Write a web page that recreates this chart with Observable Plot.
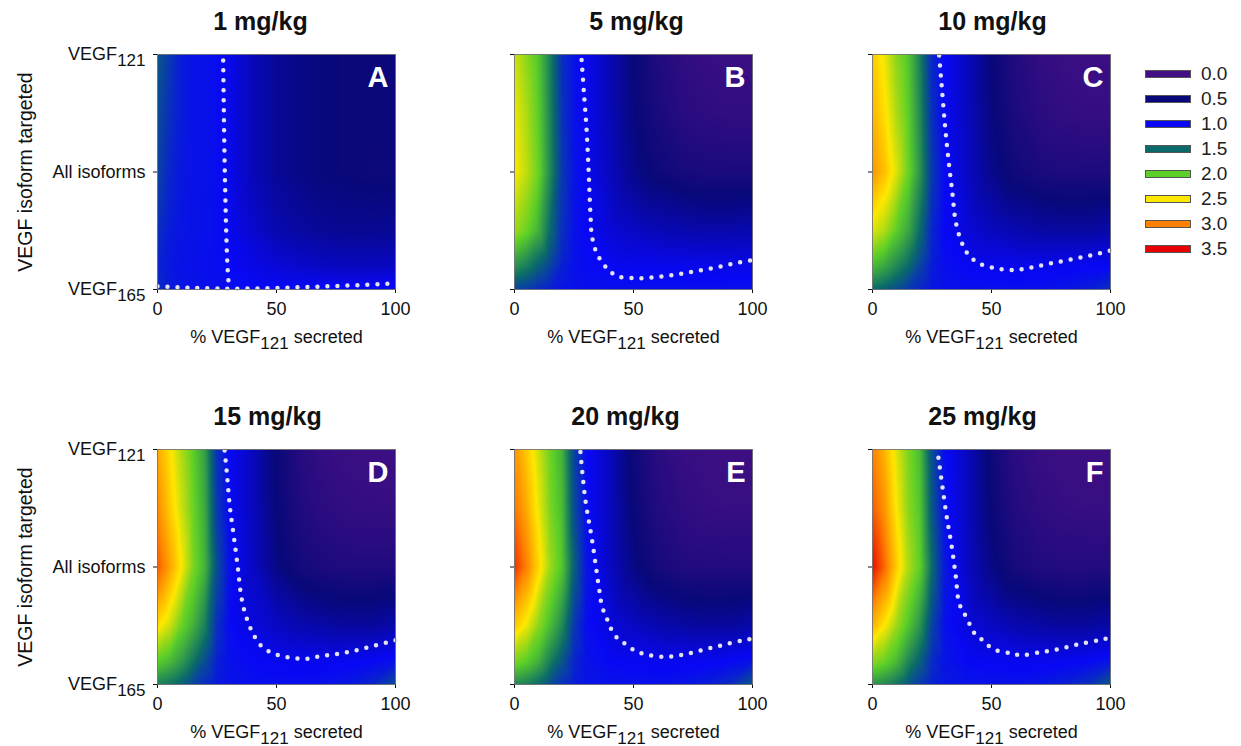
<!DOCTYPE html>
<html><head><meta charset="utf-8">
<script src="https://cdn.jsdelivr.net/npm/d3@7"></script>
<script src="https://cdn.jsdelivr.net/npm/@observablehq/plot@0.6"></script>
<style>
html,body{margin:0;padding:0;background:#fff;}
body{width:1241px;height:746px;overflow:hidden;position:relative;font-family:"Liberation Sans",Arial,sans-serif;}
.panel{position:absolute;}
.sw{position:absolute;left:1145px;width:44px;height:6px;border:1px solid #555;}
.lab{position:absolute;left:1201px;font-size:19px;line-height:19px;color:#222;}
</style></head><body>
<div id="root"></div>
<script>
// ---------- data ----------
const doses = ["1 mg/kg", "5 mg/kg", "10 mg/kg", "15 mg/kg", "20 mg/kg", "25 mg/kg"];
const letters = ["A", "B", "C", "D", "E", "F"];
const pctSecreted = [0, 5, 10, 15, 20, 25, 30, 40, 50, 60, 70, 80, 90, 100];
// 0 = VEGF165 targeted, 0.5 = all isoforms, 1 = VEGF121 targeted
const isoformPos = [0, 0.1, 0.25, 0.5, 0.75, 1];
const yTicks = [0, 0.5, 1];
const yTickLabels = ["VEGF165", "All isoforms", "VEGF121"];
const xTicks = [0, 50, 100];
const xLabel = "% VEGF121 secreted";
const yLabel = "VEGF isoform targeted";
const legendLevels = [0, 0.5, 1.0, 1.5, 2.0, 2.5, 3.0, 3.5];
const legendColors = ["#430f85", "#08087a", "#0808f5", "#0a6a6a", "#5ccf28", "#ffe800", "#ff8000", "#e80000"];

// rows follow isoformPos (bottom -> top), columns follow pctSecreted
const valuesA = [
  [1.20, 1.10, 1.06, 1.05, 1.04, 1.03, 1.02, 1.02, 1.02, 1.02, 1.02, 1.02, 1.03, 1.05],
  [1.15, 1.08, 1.05, 1.04, 1.03, 1.02, 1.00, 0.94, 0.88, 0.84, 0.80, 0.78, 0.78, 0.80],
  [1.20, 1.10, 1.06, 1.05, 1.04, 1.02, 0.98, 0.84, 0.72, 0.66, 0.62, 0.60, 0.60, 0.62],
  [1.30, 1.15, 1.08, 1.05, 1.05, 1.02, 0.96, 0.76, 0.62, 0.55, 0.50, 0.48, 0.46, 0.46],
  [1.35, 1.20, 1.10, 1.05, 1.05, 1.02, 0.96, 0.76, 0.62, 0.55, 0.50, 0.48, 0.48, 0.48],
  [1.40, 1.25, 1.10, 1.05, 1.05, 1.02, 0.96, 0.76, 0.62, 0.55, 0.50, 0.48, 0.48, 0.48]
];
const valuesB = [
  [1.30, 1.25, 1.18, 1.12, 1.06, 1.04, 1.03, 1.03, 1.03, 1.03, 1.03, 1.03, 1.04, 1.05],
  [1.70, 1.60, 1.45, 1.30, 1.12, 1.04, 1.01, 0.99, 0.97, 0.97, 0.97, 0.96, 0.95, 0.95],
  [2.20, 2.05, 1.85, 1.50, 1.20, 1.05, 0.99, 0.88, 0.80, 0.75, 0.72, 0.70, 0.70, 0.72],
  [2.50, 2.30, 2.05, 1.65, 1.25, 1.06, 0.98, 0.78, 0.58, 0.45, 0.38, 0.35, 0.35, 0.35],
  [2.45, 2.25, 2.00, 1.62, 1.22, 1.05, 0.98, 0.75, 0.52, 0.35, 0.24, 0.18, 0.15, 0.15],
  [2.35, 2.15, 1.95, 1.60, 1.20, 1.05, 0.98, 0.75, 0.50, 0.30, 0.17, 0.10, 0.08, 0.08]
];
const valuesC = [
  [1.50, 1.45, 1.35, 1.25, 1.15, 1.07, 1.04, 1.03, 1.03, 1.03, 1.04, 1.06, 1.10, 1.20],
  [1.90, 1.80, 1.65, 1.50, 1.30, 1.10, 1.03, 0.99, 0.97, 0.96, 0.97, 0.98, 0.99, 1.00],
  [2.40, 2.25, 2.00, 1.80, 1.50, 1.15, 1.00, 0.88, 0.78, 0.72, 0.68, 0.66, 0.66, 0.70],
  [2.90, 2.70, 2.40, 2.05, 1.70, 1.25, 1.02, 0.80, 0.58, 0.42, 0.35, 0.32, 0.32, 0.32],
  [2.75, 2.55, 2.25, 2.00, 1.65, 1.20, 1.00, 0.78, 0.52, 0.33, 0.22, 0.15, 0.12, 0.12],
  [2.65, 2.45, 2.15, 1.95, 1.60, 1.15, 1.00, 0.78, 0.50, 0.28, 0.14, 0.08, 0.06, 0.06]
];
const valuesD = [
  [1.60, 1.55, 1.45, 1.30, 1.18, 1.08, 1.05, 1.03, 1.03, 1.03, 1.05, 1.08, 1.15, 1.35],
  [2.00, 1.90, 1.75, 1.55, 1.35, 1.12, 1.04, 1.00, 0.98, 0.97, 0.97, 0.98, 1.00, 1.05],
  [2.55, 2.35, 2.05, 1.85, 1.60, 1.20, 1.02, 0.90, 0.80, 0.72, 0.68, 0.65, 0.65, 0.70],
  [3.15, 2.85, 2.50, 2.10, 1.85, 1.35, 1.05, 0.80, 0.55, 0.40, 0.33, 0.30, 0.30, 0.30],
  [2.95, 2.65, 2.35, 2.05, 1.80, 1.25, 1.00, 0.78, 0.50, 0.30, 0.20, 0.14, 0.12, 0.12],
  [2.80, 2.55, 2.25, 2.00, 1.75, 1.20, 1.00, 0.78, 0.48, 0.25, 0.12, 0.07, 0.06, 0.06]
];
const valuesE = [
  [1.65, 1.60, 1.50, 1.35, 1.20, 1.10, 1.06, 1.04, 1.04, 1.04, 1.06, 1.10, 1.18, 1.40],
  [2.10, 2.00, 1.85, 1.60, 1.40, 1.15, 1.05, 1.00, 0.98, 0.97, 0.97, 0.98, 1.00, 1.05],
  [2.65, 2.45, 2.15, 1.90, 1.65, 1.25, 1.03, 0.90, 0.80, 0.72, 0.68, 0.65, 0.65, 0.70],
  [3.30, 3.00, 2.60, 2.20, 1.95, 1.45, 1.08, 0.80, 0.55, 0.38, 0.30, 0.28, 0.28, 0.28],
  [3.05, 2.80, 2.45, 2.10, 1.90, 1.35, 1.03, 0.78, 0.48, 0.28, 0.18, 0.12, 0.10, 0.10],
  [2.90, 2.65, 2.35, 2.05, 1.85, 1.30, 1.02, 0.78, 0.45, 0.22, 0.10, 0.06, 0.05, 0.05]
];
const valuesF = [
  [1.70, 1.65, 1.55, 1.40, 1.25, 1.12, 1.07, 1.05, 1.05, 1.05, 1.07, 1.12, 1.20, 1.40],
  [2.15, 2.05, 1.90, 1.65, 1.45, 1.18, 1.06, 1.00, 0.98, 0.97, 0.97, 0.98, 1.00, 1.06],
  [2.75, 2.50, 2.20, 1.95, 1.70, 1.30, 1.05, 0.90, 0.80, 0.72, 0.68, 0.65, 0.65, 0.70],
  [3.45, 3.10, 2.65, 2.25, 2.00, 1.50, 1.10, 0.80, 0.55, 0.37, 0.30, 0.27, 0.27, 0.27],
  [3.15, 2.90, 2.50, 2.15, 1.95, 1.40, 1.05, 0.78, 0.48, 0.27, 0.17, 0.12, 0.10, 0.10],
  [3.00, 2.75, 2.40, 2.10, 1.90, 1.35, 1.03, 0.78, 0.45, 0.20, 0.09, 0.05, 0.05, 0.05]
];

// dotted contour lines (x = % secreted, y = isoform position, seg = piece)
const contourA = [
  {x: 27.6, y: 0.975, seg: 1}, {x: 28.3, y: 0.49, seg: 1}, {x: 29.3, y: 0.12, seg: 1}, {x: 30.0, y: 0.01, seg: 1},
  {x: 0, y: 0.014, seg: 2}, {x: 12, y: 0.008, seg: 2}, {x: 25, y: 0.004, seg: 2}, {x: 40, y: 0.004, seg: 2},
  {x: 55, y: 0.008, seg: 2}, {x: 70, y: 0.013, seg: 2}, {x: 85, y: 0.019, seg: 2}, {x: 100, y: 0.026, seg: 2}
];
const contourB = [
  {x: 28.2, y: 0.977}, {x: 29.1, y: 0.847}, {x: 30.3, y: 0.677}, {x: 31.2, y: 0.492}, {x: 31.9, y: 0.322},
  {x: 32.6, y: 0.223}, {x: 34.7, y: 0.152}, {x: 39.0, y: 0.088}, {x: 43.0, y: 0.058}, {x: 50.1, y: 0.048},
  {x: 58.5, y: 0.052}, {x: 66.9, y: 0.062}, {x: 75.3, y: 0.077}, {x: 83.7, y: 0.092}, {x: 92.1, y: 0.11}, {x: 100, y: 0.126}
];
const contourC = [
  {x: 28.0, y: 0.996}, {x: 29.0, y: 0.875}, {x: 30.4, y: 0.705}, {x: 31.8, y: 0.563}, {x: 33.6, y: 0.407},
  {x: 35.0, y: 0.286}, {x: 37.5, y: 0.2}, {x: 40.5, y: 0.145}, {x: 45.0, y: 0.11}, {x: 52.0, y: 0.09},
  {x: 60.0, y: 0.083}, {x: 67.4, y: 0.095}, {x: 75.1, y: 0.112}, {x: 83.5, y: 0.128}, {x: 92.0, y: 0.146}, {x: 100, y: 0.166}
];
const contourD = [
  {x: 28.2, y: 0.996}, {x: 29.3, y: 0.883}, {x: 30.4, y: 0.756}, {x: 32.1, y: 0.628}, {x: 33.7, y: 0.501},
  {x: 35.2, y: 0.374}, {x: 37.0, y: 0.297}, {x: 40.0, y: 0.219}, {x: 43.5, y: 0.165}, {x: 48.0, y: 0.135},
  {x: 54.5, y: 0.116}, {x: 62.9, y: 0.109}, {x: 67.1, y: 0.118}, {x: 75.5, y: 0.13}, {x: 83.2, y: 0.145},
  {x: 91.6, y: 0.166}, {x: 100, y: 0.188}
];
const contourE = [
  {x: 27.7, y: 0.989}, {x: 29.8, y: 0.784}, {x: 32.6, y: 0.614}, {x: 35.4, y: 0.417}, {x: 36.8, y: 0.332},
  {x: 38.7, y: 0.283}, {x: 40.6, y: 0.236}, {x: 42.9, y: 0.201}, {x: 46.6, y: 0.172}, {x: 50.4, y: 0.145},
  {x: 54.6, y: 0.13}, {x: 62.7, y: 0.118}, {x: 71.1, y: 0.127}, {x: 79.5, y: 0.148}, {x: 87.9, y: 0.169},
  {x: 95.9, y: 0.188}, {x: 100, y: 0.195}
];
const contourF = [
  {x: 27.7, y: 0.965}, {x: 29.4, y: 0.84}, {x: 31.2, y: 0.713}, {x: 33.3, y: 0.586}, {x: 35.0, y: 0.459},
  {x: 36.4, y: 0.346}, {x: 38.5, y: 0.304}, {x: 40.6, y: 0.261}, {x: 42.8, y: 0.219}, {x: 46.3, y: 0.188},
  {x: 50.5, y: 0.152}, {x: 58.2, y: 0.132}, {x: 62.4, y: 0.125}, {x: 70.9, y: 0.138}, {x: 79.3, y: 0.153},
  {x: 87.8, y: 0.174}, {x: 96.2, y: 0.191}, {x: 100, y: 0.2}
];

const panelValues = [valuesA, valuesB, valuesC, valuesD, valuesE, valuesF];
const panelContours = [contourA, contourB, contourC, contourD, contourE, contourF];

// ---------- layout ----------
const FONT = '"Liberation Sans", Arial, Helvetica, sans-serif';
const PW = 238, PH = 235;
const colLeft = [0, 394, 752];
const rowTop = [0, 395];
const titleDx = [-16, 3, 1, -9, -8, -9];
const NS = "http://www.w3.org/2000/svg";

function subscriptify(svg) {
  svg.querySelectorAll("text").forEach(t => {
    if (t.children.length) return;
    const m = t.textContent.match(/^(.*VEGF)(\d{3})(.*)$/);
    if (!m) return;
    t.textContent = "";
    const a = document.createElementNS(NS, "tspan"); a.textContent = m[1]; t.appendChild(a);
    const b = document.createElementNS(NS, "tspan"); b.setAttribute("dy", "6"); b.setAttribute("font-size", "17px"); b.textContent = m[2]; t.appendChild(b);
    if (m[3]) { const c = document.createElementNS(NS, "tspan"); c.setAttribute("dy", "-6"); c.textContent = m[3]; t.appendChild(c); }
  });
}

const root = document.getElementById("root");
for (let k = 0; k < 6; ++k) {
  const col = k % 3, row = Math.floor(k / 3), left = col === 0;
  const ml = left ? 157 : 120;
  const grid = [];
  isoformPos.forEach((yv, i) => pctSecreted.forEach((xv, j) => grid.push({x: xv, y: yv, v: panelValues[k][i][j]})));
  const contour = panelContours[k];
  const p = Plot.plot({
    width: ml + PW + 3, height: 54 + PH + 60,
    marginLeft: ml, marginRight: 3, marginTop: 54, marginBottom: 60,
    style: {fontFamily: FONT, fontSize: "18px", background: "transparent", overflow: "visible", color: "#111"},
    x: {domain: [0, 100], ticks: xTicks, tickSize: 4, tickPadding: 9, label: null},
    y: {domain: [0, 1], ticks: yTicks, tickSize: 4, tickPadding: 8, label: null,
        tickFormat: left ? (d => yTickLabels[yTicks.indexOf(d)]) : (() => "")},
    color: {type: "linear", domain: legendLevels, range: legendColors, interpolate: "rgb"},
    marks: [
      Plot.raster(grid, {x: "x", y: "y", fill: "v", x1: 0, x2: 100, y1: 0, y2: 1, interpolate: "barycentric"}),
      Plot.line(contour, {x: "x", y: "y", z: contour[0].seg ? "seg" : null, stroke: "#e2e2f2", strokeWidth: 4.5,
        strokeDasharray: "0 10", strokeLinecap: "round", curve: "catmull-rom"}),
      Plot.frame({stroke: "#666", strokeWidth: 0.8}),
      Plot.text([letters[k]], {frameAnchor: "top-right", lineAnchor: "top", dx: -7, dy: 12, fill: "white", fontWeight: "bold", fontSize: 29}),
      Plot.text([doses[k]], {frameAnchor: "top", lineAnchor: "bottom", dx: titleDx[k], dy: -25, fill: "#111", fontWeight: "bold", fontSize: 25}),
      Plot.text([xLabel], {frameAnchor: "bottom", lineAnchor: "bottom", dy: 53, fill: "#111", fontSize: 18}),
      left ? Plot.text([yLabel], {frameAnchor: "left", textAnchor: "middle", rotate: -90, dx: -132, fill: "#111", fontSize: 19.5}) : null
    ]
  });
  subscriptify(p);
  const wrap = document.createElement("div");
  wrap.className = "panel";
  wrap.style.left = colLeft[col] + "px";
  wrap.style.top = rowTop[row] + "px";
  wrap.appendChild(p);
  root.appendChild(wrap);
}

// legend
legendLevels.forEach((v, i) => {
  const s = document.createElement("div");
  s.className = "sw"; s.style.top = (74 + 25 * i - 4) + "px"; s.style.background = legendColors[i];
  root.appendChild(s);
  const l = document.createElement("div");
  l.className = "lab"; l.style.top = (74 + 25 * i - 10) + "px"; l.textContent = v.toFixed(1);
  root.appendChild(l);
});
</script>
</body></html>
